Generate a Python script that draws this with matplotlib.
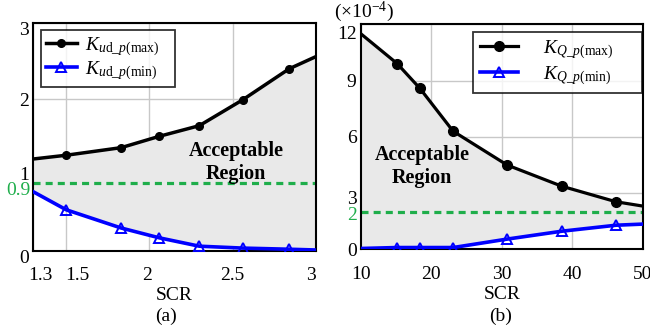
import matplotlib
matplotlib.use('Agg')
import matplotlib.pyplot as plt
import matplotlib.transforms as mtransforms
import numpy as np

# --------------------------------------------------------------------------------------
# Data

# (a) K_ud_p vs SCR
scrA      = [1.3, 1.5, 1.83, 2.06, 2.30, 2.56, 2.84, 3.0]
kudMax    = [1.21, 1.26, 1.36, 1.51, 1.65, 1.99, 2.40, 2.56]
kudMin    = [0.78, 0.54, 0.30, 0.17, 0.06, 0.035, 0.02, 0.01]
limitA    = 0.9

# (b) K_Q_p vs SCR  (x 1e-4)
scrB      = [10, 15.15, 18.4, 23.1, 30.75, 38.5, 46.2, 50]
kqMax     = [11.5, 9.91, 8.58, 6.30, 4.50, 3.37, 2.54, 2.31]
kqMin     = [0.05, 0.10, 0.10, 0.10, 0.55, 0.97, 1.29, 1.35]
limitB    = 2

# --------------------------------------------------------------------------------------
# Style

plt.rcParams['font.family'] = ['Liberation Serif', 'DejaVu Serif']
plt.rcParams['mathtext.fontset'] = 'custom'
plt.rcParams['mathtext.rm'] = 'Liberation Serif'
plt.rcParams['mathtext.it'] = 'Liberation Serif:italic'
plt.rcParams['mathtext.bf'] = 'Liberation Serif:bold'

green = '#1fae4b'
blue  = '#0000ff'
fillc = '#e9e9e9'
gridc = '#c8c8c8'

fs = 14

fig = plt.figure(figsize=(6.5, 3.33), dpi=100)
axA = fig.add_axes([0.0508, 0.247, 0.435, 0.683])
axB = fig.add_axes([0.555, 0.251, 0.434, 0.676])

def style(ax):
    for s in ax.spines.values():
        s.set_linewidth(1.5)
        s.set_color('k')
    ax.tick_params(length=0, labelsize=fs)
    ax.tick_params(axis='x', pad=12)
    ax.tick_params(axis='y', pad=3)
    ax.grid(True, color=gridc, linewidth=1)
    ax.set_axisbelow(True)

def shift(dx, dy):
    # offset in pixels
    return mtransforms.ScaledTranslation(dx / 100, dy / 100, fig.dpi_scale_trans)

def nudge(label, dx, dy):
    label.set_transform(label.get_transform() + shift(dx, dy))

def frame(leg):
    leg.get_frame().set_edgecolor('k')
    leg.get_frame().set_linewidth(1.3)

# --------------------------------------------------------------------------------------
# (a)

axA.fill_between(scrA, kudMin, kudMax, color=fillc, zorder=1)
axA.plot(scrA, kudMax, color='k', lw=2.5, marker='o', ms=5.5,
         markevery=list(range(1, 7)), label=r'$K_{u\mathrm{d}\_p(\mathrm{max})}$', zorder=3)
axA.plot(scrA, kudMin, color=blue, lw=2.6, marker='^', ms=6.5, mfc='none', mew=1.4,
         markevery=list(range(1, 7)), label=r'$K_{u\mathrm{d}\_p(\mathrm{min})}$', zorder=3)
axA.axhline(limitA, color=green, lw=2.3, ls=(0, (2.2, 1.6)), zorder=2)

axA.set_xlim(1.3, 3)
axA.set_ylim(0, 3)
axA.set_xticks([1.3, 1.5, 2, 2.5, 3])
axA.set_xticklabels(['1.3', '1.5', '2', '2.5', '3'])
axA.set_yticks([0, 1, 2, 3])
style(axA)
axA.set_xlabel('SCR', fontsize=fs, labelpad=2)

xl = axA.get_xticklabels()
nudge(xl[0], 7, 0)
nudge(xl[1], 11, 0)
nudge(xl[2], -2, 0)
nudge(xl[-1], -5, 0)
yl = axA.get_yticklabels()
nudge(yl[0], 0, -6)
nudge(yl[-1], 0, -5)
nudge(yl[1], 0, 1)

trA = mtransforms.blended_transform_factory(axA.transAxes, axA.transData)
axA.text(-0.01, limitA, '0.9', color=green, fontsize=fs, ha='right', va='center',
         transform=trA + shift(0, -8))
axA.text(2.52, 1.17, 'Acceptable\nRegion', fontsize=fs + 0.5, fontweight='bold',
         ha='center', va='center', linespacing=1.2, zorder=4)

legA = axA.legend(loc='upper left', bbox_to_anchor=(0.027, 0.733, 0.476, 0.237),
                  mode='expand', fontsize=fs, frameon=True, fancybox=False,
                  handlelength=1.6, borderpad=0.25, labelspacing=0.1,
                  handletextpad=0.45, borderaxespad=0)
frame(legA)
fig.text(0.255, 0.036, '(a)', fontsize=fs, ha='center')

# --------------------------------------------------------------------------------------
# (b)

axB.fill_between(scrB, kqMin, kqMax, color=fillc, zorder=1)
axB.plot(scrB, kqMax, color='k', lw=2.3, marker='o', ms=7,
         markevery=list(range(1, 7)), label=r'$K_{Q\_p(\mathrm{max})}$', zorder=3)
axB.plot(scrB, kqMin, color=blue, lw=2.6, marker='^', ms=6.5, mfc='none', mew=1.4,
         markevery=list(range(1, 7)), label=r'$K_{Q\_p(\mathrm{min})}$', zorder=3)
axB.axhline(limitB, color=green, lw=2.3, ls=(0, (2.2, 1.6)), zorder=2)

axB.set_xlim(10, 50)
axB.set_ylim(0, 12)
axB.set_xticks([10, 20, 30, 40, 50])
axB.set_yticks([0, 3, 6, 9, 12])
style(axB)
axB.set_xlabel('SCR', fontsize=fs, labelpad=2)

yl = axB.get_yticklabels()
nudge(yl[-1], 0, -8)
nudge(yl[1], 0, -4)

trB = mtransforms.blended_transform_factory(axB.transAxes, axB.transData)
axB.text(-0.013, limitB, '2', color=green, fontsize=fs, ha='right', va='center',
         transform=trB + shift(0, -4))
axB.text(18.7, 4.4, 'Acceptable\nRegion', fontsize=fs + 0.5, fontweight='bold',
         ha='center', va='center', linespacing=1.2, zorder=4)
fig.text(0.514, 0.927, r'($\times$10$^{-4}$)', fontsize=fs, ha='left', va='bottom')

legB = axB.legend(loc='upper left', bbox_to_anchor=(0.397, 0.709, 0.6, 0.258),
                  mode='expand', fontsize=fs, frameon=True, fancybox=False,
                  handlelength=2.0, borderpad=0.35, labelspacing=0.15,
                  handletextpad=1.25, borderaxespad=0)
frame(legB)
fig.text(0.77, 0.036, '(b)', fontsize=fs, ha='center')

fig.savefig('out.png', dpi=100)
